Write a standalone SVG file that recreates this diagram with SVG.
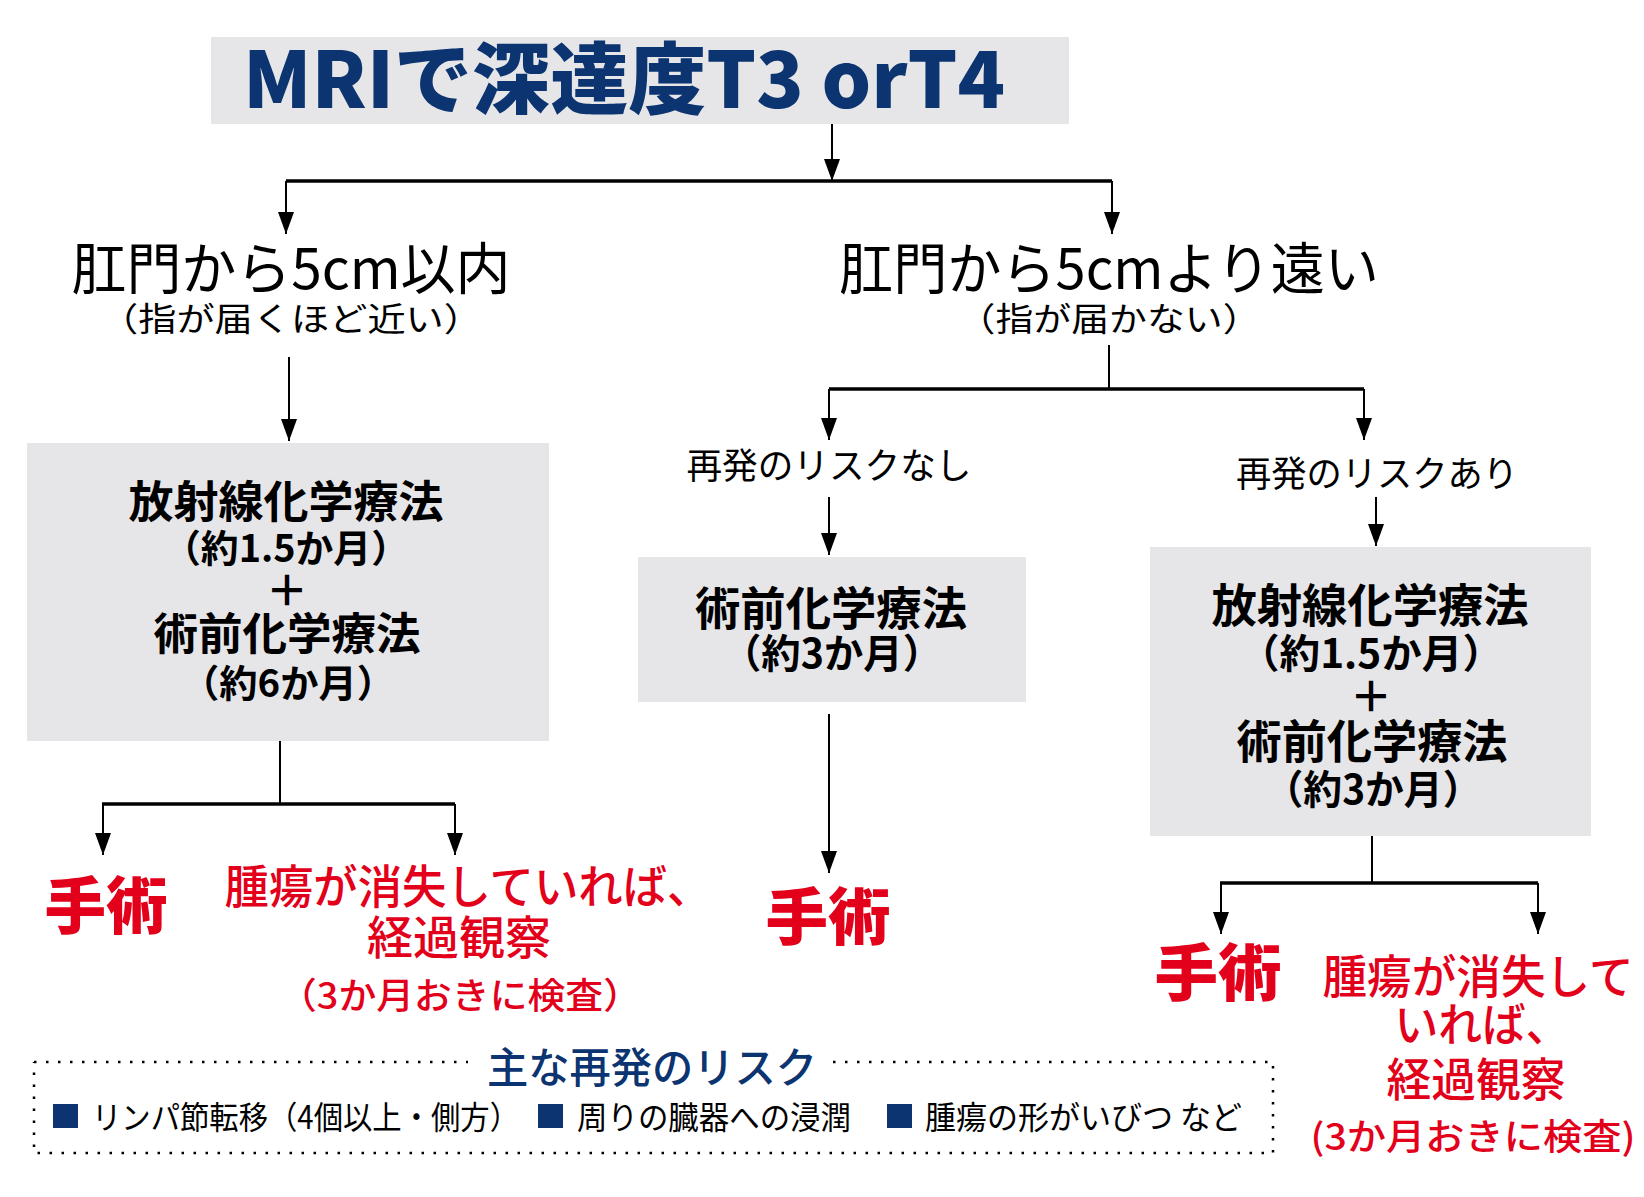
<svg xmlns="http://www.w3.org/2000/svg" width="1644" height="1197" viewBox="0 0 1644 1197">
<defs>
<marker id="ah" viewBox="0 0 22 16" refX="22" refY="8" markerWidth="22" markerHeight="16" markerUnits="userSpaceOnUse" orient="auto">
<path d="M0,0 L22,8 L0,16 z" fill="#000"/>
</marker>
<style>
text{font-family:"Noto Sans CJK JP","Noto Sans",sans-serif;text-anchor:middle}
.box{fill:#e6e6e8}
.t{fill:#000;font-weight:400}
.b{fill:#000;font-weight:700}
.r{fill:#e3001b;font-weight:500}
.rb{fill:#e3001b;font-weight:900}
.n{fill:#0b3470}
.ln{stroke:#000;stroke-width:2;fill:none}
.lh{stroke:#000;stroke-width:3.5;fill:none}
.ar{stroke:#000;stroke-width:2;fill:none;marker-end:url(#ah)}
.dot{stroke:#000;stroke-width:2.5;fill:none;stroke-dasharray:2.5 9.5}
</style>
</defs>
<rect width="1644" height="1197" fill="#fff"/>

<g id="title">
<rect class="box" x="211" y="37" width="858" height="87"/>
<text class="n" x="624" y="108" font-size="78" font-weight="900" textLength="762" lengthAdjust="spacingAndGlyphs">MRIで深達度T3 orT4</text>
</g>

<g id="near">
<text class="t" x="291" y="289" font-size="56" textLength="439" lengthAdjust="spacingAndGlyphs">肛門から5cm以内</text>
<text class="t" x="291" y="331" font-size="33" textLength="382" lengthAdjust="spacingAndGlyphs">（指が届くほど近い）</text>
</g>

<g id="far">
<text class="t" x="1109" y="289" font-size="56" textLength="540" lengthAdjust="spacingAndGlyphs">肛門から5cmより遠い</text>
<text class="t" x="1109" y="331" font-size="33" textLength="303" lengthAdjust="spacingAndGlyphs">（指が届かない）</text>
</g>

<g id="crt-left">
<rect class="box" x="27" y="443" width="522" height="298"/>
<text class="b" x="286" y="518" font-size="44" textLength="315" lengthAdjust="spacingAndGlyphs">放射線化学療法</text>
<text class="b" x="286" y="562" font-size="38" textLength="246" lengthAdjust="spacingAndGlyphs">（約1.5か月）</text>
<text class="b" x="287" y="606" font-size="42">＋</text>
<text class="b" x="287" y="650" font-size="44" textLength="267" lengthAdjust="spacingAndGlyphs">術前化学療法</text>
<text class="b" x="288" y="697" font-size="38" textLength="214" lengthAdjust="spacingAndGlyphs">（約6か月）</text>
</g>

<g id="risk-none">
<text class="t" x="829" y="479" font-size="36" textLength="285" lengthAdjust="spacingAndGlyphs">再発のリスクなし</text>
</g>

<g id="risk-yes">
<text class="t" x="1377" y="487" font-size="36" textLength="282" lengthAdjust="spacingAndGlyphs">再発のリスクあり</text>
</g>

<g id="chemo-mid">
<rect class="box" x="638" y="557" width="388" height="145"/>
<text class="b" x="831" y="625" font-size="46" textLength="272" lengthAdjust="spacingAndGlyphs">術前化学療法</text>
<text class="b" x="832" y="668" font-size="40" textLength="220" lengthAdjust="spacingAndGlyphs">（約3か月）</text>
</g>

<g id="crt-right">
<rect class="box" x="1150" y="547" width="441" height="289"/>
<text class="b" x="1370" y="622" font-size="46" textLength="317" lengthAdjust="spacingAndGlyphs">放射線化学療法</text>
<text class="b" x="1371" y="668" font-size="40" textLength="264" lengthAdjust="spacingAndGlyphs">（約1.5か月）</text>
<text class="b" x="1371" y="712" font-size="42">＋</text>
<text class="b" x="1372" y="758" font-size="46" textLength="271" lengthAdjust="spacingAndGlyphs">術前化学療法</text>
<text class="b" x="1373" y="804" font-size="40" textLength="217" lengthAdjust="spacingAndGlyphs">（約3か月）</text>
</g>

<g id="surg-left">
<text class="rb" x="106" y="929" font-size="62" textLength="123" lengthAdjust="spacingAndGlyphs">手術</text>
</g>

<g id="watch-left">
<text class="r" x="468" y="903" font-size="46" textLength="487" lengthAdjust="spacingAndGlyphs">腫瘍が消失していれば、</text>
<text class="r" x="459" y="954" font-size="46" textLength="184" lengthAdjust="spacingAndGlyphs">経過観察</text>
<text class="r" x="460" y="1009" font-size="36" textLength="362" lengthAdjust="spacingAndGlyphs">（3か月おきに検査）</text>
</g>

<g id="surg-mid">
<text class="rb" x="828" y="940" font-size="62" textLength="125" lengthAdjust="spacingAndGlyphs">手術</text>
</g>

<g id="surg-right">
<text class="rb" x="1218" y="996" font-size="62" textLength="127" lengthAdjust="spacingAndGlyphs">手術</text>
</g>

<g id="watch-right">
<text class="r" x="1478" y="993" font-size="46" textLength="311" lengthAdjust="spacingAndGlyphs">腫瘍が消失して</text>
<text class="r" x="1482" y="1041" font-size="46" textLength="175" lengthAdjust="spacingAndGlyphs">いれば、</text>
<text class="r" x="1476" y="1096" font-size="46" textLength="179" lengthAdjust="spacingAndGlyphs">経過観察</text>
<text class="r" x="1473" y="1150" font-size="36" textLength="325" lengthAdjust="spacingAndGlyphs">(3か月おきに検査)</text>
</g>

<g id="risk-legend">
<path class="dot" d="M34,1062 H468 M833,1062 H1273 V1153 H34 V1062"/>
<text class="n" x="652" y="1083" font-size="42" font-weight="500" textLength="330" lengthAdjust="spacingAndGlyphs">主な再発のリスク</text>
<rect class="n" x="53" y="1104" width="25" height="24"/>
<text class="t" x="92" y="1129" font-size="32" style="text-anchor:start" textLength="427" lengthAdjust="spacingAndGlyphs">リンパ節転移（4個以上・側方）</text>
<rect class="n" x="538" y="1104" width="25" height="24"/>
<text class="t" x="577" y="1129" font-size="32" style="text-anchor:start" textLength="274" lengthAdjust="spacingAndGlyphs">周りの臓器への浸潤</text>
<rect class="n" x="887" y="1104" width="25" height="24"/>
<text class="t" x="925" y="1129" font-size="32" style="text-anchor:start" textLength="317" lengthAdjust="spacingAndGlyphs">腫瘍の形がいびつ など</text>
</g>

<g id="connectors">
<path class="ar" d="M832,124 V181"/>
<path class="lh" d="M286,181 H1112"/>
<path class="ar" d="M286,181 V234"/>
<path class="ar" d="M1112,181 V234"/>
<path class="ar" d="M289,357 V441"/>
<path class="ln" d="M1109,345 V389"/>
<path class="lh" d="M829,389 H1364"/>
<path class="ar" d="M829,389 V440"/>
<path class="ar" d="M1364,389 V440"/>
<path class="ar" d="M829,497 V555"/>
<path class="ar" d="M1376,497 V546"/>
<path class="ln" d="M280,741 V804"/>
<path class="lh" d="M102,804 H455"/>
<path class="ar" d="M103,804 V855"/>
<path class="ar" d="M455,804 V855"/>
<path class="ar" d="M829,714 V873"/>
<path class="ln" d="M1372,836 V883"/>
<path class="lh" d="M1220,883 H1538"/>
<path class="ar" d="M1221,883 V934"/>
<path class="ar" d="M1538,883 V934"/>
</g>
</svg>
